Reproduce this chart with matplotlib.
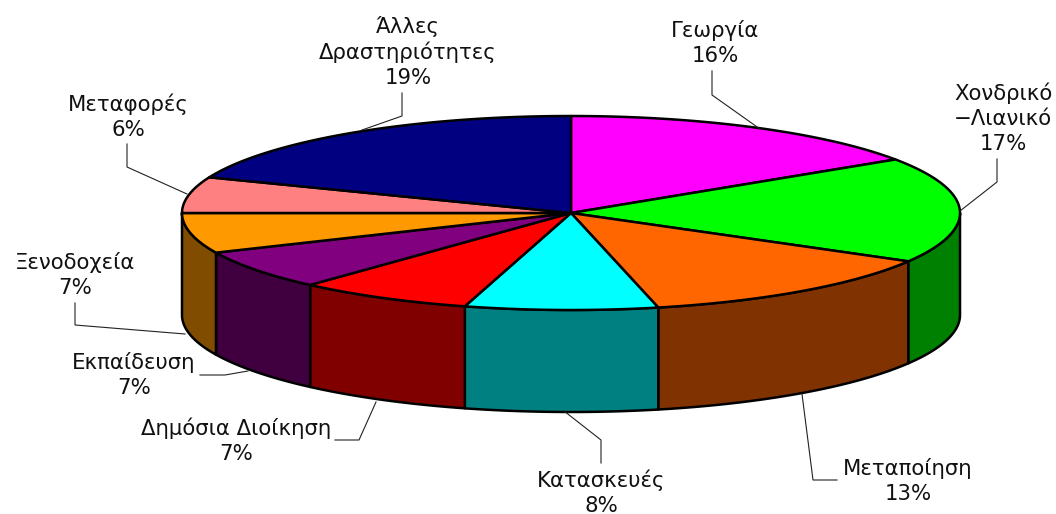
import numpy as np
import matplotlib
matplotlib.use('Agg')
import matplotlib.pyplot as plt
from matplotlib.patches import Polygon

# shares read from the slice boundaries, labels keep the rounded percent
labels = ['Γεωργία\n16%', 'Χονδρικό\n−Λιανικό\n17%', 'Μεταποίηση\n13%',
          'Κατασκευές\n8%', 'Δημόσια Διοίκηση\n7%', 'Εκπαίδευση\n7%',
          'Ξενοδοχεία\n7%', 'Μεταφορές\n6%', 'Άλλες\nΔραστηριότητες\n19%']
shares = [15.7, 17.6, 13.1, 8.0, 7.3, 6.6, 6.7, 6.0, 19.0]
top_colors = ['#FF00FF', '#00FF00', '#FF6600', '#00FFFF', '#FF0000',
              '#800080', '#FF9900', '#FF8080', '#000080']
side_colors = ['#800080', '#008000', '#803300', '#008080', '#800000',
               '#400040', '#804C00', '#804040', '#000040']

# label centres and leader lines, in pixels
label_xy = [(715, 43), (1003, 118), (908, 481), (601, 493), (236, 441),
            (134, 375), (75, 275), (128, 117), (408, 52)]
leaders = [[(712, 71), (712, 95), (760, 129)],
           [(997, 159), (997, 182), (960, 211)],
           [(837, 480), (813, 480), (802, 394)],
           [(601, 463), (601, 440), (564, 411)],
           [(335, 440), (359, 440), (376, 402)],
           [(200, 375), (225, 375), (248, 371)],
           [(75, 303), (75, 325), (185, 334)],
           [(127, 144), (127, 167), (187, 194)],
           [(402, 93), (402, 116), (362, 130)]]

cx, cy = 571, 213
rx, ry = 389, 97
depth = 102
edge_lw = 1.8


def arc(a0, a1, dy=0):
    t = np.radians(np.linspace(a0, a1, 120))
    return np.column_stack([cx + rx * np.sin(t), cy - ry * np.cos(t) + dy])


fig = plt.figure(figsize=(10.56, 5.14), dpi=100)
ax = fig.add_axes([0, 0, 1, 1])
ax.set_xlim(0, 1056)
ax.set_ylim(514, 0)
ax.axis('off')

edges = np.concatenate([[0], np.cumsum(shares)]) / np.sum(shares) * 360

# side walls: only the front half (90 to 270 degrees) is visible
for i in range(len(shares)):
    a0, a1 = max(edges[i], 90), min(edges[i + 1], 270)
    if a1 <= a0:
        continue
    pts = np.vstack([arc(a0, a1), arc(a0, a1, depth)[::-1]])
    ax.add_patch(Polygon(pts, closed=True, facecolor=side_colors[i],
                         edgecolor='black', linewidth=edge_lw, joinstyle='round'))

# top face
for i in range(len(shares)):
    pts = np.vstack([[(cx, cy)], arc(edges[i], edges[i + 1])])
    ax.add_patch(Polygon(pts, closed=True, facecolor=top_colors[i],
                         edgecolor='black', linewidth=edge_lw, joinstyle='round'))

for line, txt, xy in zip(leaders, labels, label_xy):
    xs, ys = zip(*line)
    ax.plot(xs, ys, color='#222222', linewidth=0.8, solid_joinstyle='miter')
    ax.text(xy[0], xy[1], txt, ha='center', va='center', fontsize=15.3,
            color='#111111', linespacing=1.3, family='DejaVu Sans')

plt.savefig('out.png', dpi=100)
